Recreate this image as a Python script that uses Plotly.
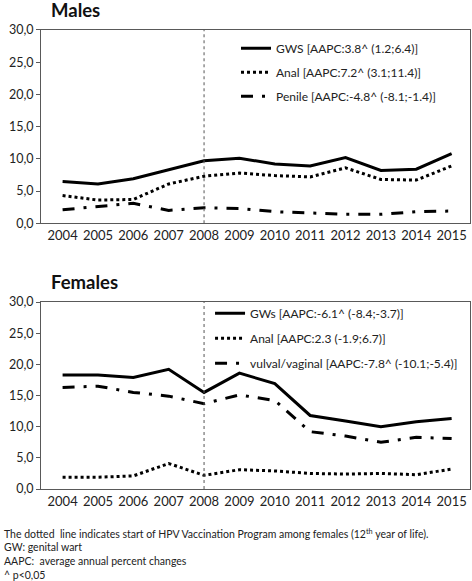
import plotly.graph_objects as go

years = [2004, 2005, 2006, 2007, 2008, 2009, 2010, 2011, 2012, 2013, 2014, 2015]
vaccination_year = 2008

male_gws = [6.5, 6.1, 6.9, 8.3, 9.7, 10.1, 9.2, 8.9, 10.2, 8.2, 8.4, 10.8]
male_anal = [4.3, 3.6, 3.7, 6.1, 7.3, 7.8, 7.4, 7.2, 8.6, 6.8, 6.7, 8.9]
male_penile = [2.1, 2.6, 3.1, 2.0, 2.4, 2.3, 1.8, 1.6, 1.4, 1.4, 1.8, 1.9]

female_gws = [18.3, 18.3, 17.9, 19.2, 15.5, 18.6, 16.9, 11.8, 10.9, 10.0, 10.8, 11.3]
female_anal = [1.9, 1.9, 2.1, 4.1, 2.2, 3.1, 2.9, 2.5, 2.4, 2.5, 2.3, 3.2]
female_vulval = [16.3, 16.5, 15.5, 14.9, 13.7, 15.1, 14.2, 9.2, 8.5, 7.5, 8.3, 8.1]

male_names = ["GWS [AAPC:3.8^ (1.2;6.4)]", "Anal [AAPC:7.2^ (3.1;11.4)]",
              "Penile [AAPC:-4.8^ (-8.1;-1.4)]"]
female_names = ["GWs [AAPC:-6.1^ (-8.4;-3.7)]", "Anal [AAPC:2.3 (-1.9;6.7)]",
                "vulval/vaginal [AAPC:-7.8^ (-10.1;-5.4)]"]
panel_titles = ["Males", "Females"]
footnotes = [
    "The dotted  line indicates start of HPV Vaccination Program among females (12<sup>th</sup> year of life).",
    "GW: genital wart",
    "AAPC:  average annual percent changes",
    "^ p<0,05",
]

FONT = "Lato"
AX = "#595959"
styles = [dict(dash="solid", width=3),
          dict(dash="dot", width=3),
          dict(dash="12px,9px,3px,9px", width=3)]

fig = go.Figure()

for series, names, xa, ya, leg in [
    ([male_gws, male_anal, male_penile], male_names, "x", "y", "legend"),
    ([female_gws, female_anal, female_vulval], female_names, "x2", "y2", "legend2"),
]:
    for i, (vals, nm) in enumerate(zip(series, names)):
        fig.add_trace(go.Scatter(
            x=years, y=vals, name=nm, mode="lines",
            line=dict(color="black", **styles[i]),
            xaxis=xa, yaxis=ya, legend=leg, legendgroup=leg + str(i),
        ))

axis_common = dict(showline=True, linecolor=AX, linewidth=1, mirror=True,
                   showgrid=False, zeroline=False, automargin=False)
xcommon = dict(axis_common, range=[2003.39, 2015.52], tickmode="array",
               tickvals=years, ticktext=[str(y) for y in years], ticks="",
               tickfont=dict(family=FONT, size=13, color="#222"))
ycommon = dict(axis_common, range=[0, 30], dtick=5, tickformat=".1f",
               ticks="outside", ticklen=4, tickcolor=AX,
               tickfont=dict(family=FONT, size=12.5, color="#222"))

fig.update_layout(
    width=472, height=581, margin=dict(l=0, r=0, t=0, b=0, autoexpand=False),
    paper_bgcolor="white", plot_bgcolor="white",
    separators=",.", hovermode=False,
    xaxis=dict(xcommon, domain=[0.0869, 0.9958], anchor="y"),
    yaxis=dict(ycommon, domain=[0.6157, 0.9484], anchor="x"),
    xaxis2=dict(xcommon, domain=[0.0869, 0.9958], anchor="y2"),
    yaxis2=dict(ycommon, domain=[0.1583, 0.4802], anchor="x2"),
    legend=dict(x=0.5, y=0.942, xanchor="left", yanchor="top",
                font=dict(family=FONT, size=12, color="#222"),
                bgcolor="rgba(0,0,0,0)", itemwidth=30, tracegroupgap=5),
    legend2=dict(x=0.445, y=0.486, xanchor="left", yanchor="top",
                 font=dict(family=FONT, size=12, color="#222"),
                 bgcolor="rgba(0,0,0,0)", itemwidth=30, tracegroupgap=6),
    showlegend=True,
)

for ya in ["y", "y2"]:
    fig.add_shape(type="line", xref="x" if ya == "y" else "x2", yref=ya + " domain",
                  x0=vaccination_year, x1=vaccination_year, y0=0, y1=1,
                  line=dict(color="#555", width=1, dash="dot"))

fig.add_annotation(text="<b>" + panel_titles[0] + "</b>", xref="paper", yref="paper",
                   x=0.104, y=1 - 10 / 581, xanchor="left", yanchor="middle",
                   showarrow=False, font=dict(family=FONT, size=18.5, color="#111"))
fig.add_annotation(text="<b>" + panel_titles[1] + "</b>", xref="paper", yref="paper",
                   x=0.104, y=1 - 282 / 581, xanchor="left", yanchor="middle",
                   showarrow=False, font=dict(family=FONT, size=18.5, color="#111"))

foot_y = [533.3, 546.7, 561.3, 575]
for txt, py in zip(footnotes, foot_y):
    fig.add_annotation(text=txt, xref="paper", yref="paper", x=0.004, y=1 - py / 581,
                       xanchor="left", yanchor="middle", showarrow=False,
                       font=dict(family=FONT, size=10.5, color="#222"))

fig.write_html("out.html", config={"displayModeBar": False},
               post_script="document.body.style.margin='0';document.body.style.overflow='hidden';")
